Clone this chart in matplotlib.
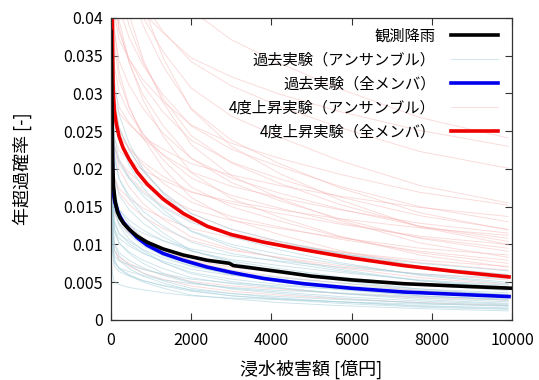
import matplotlib
matplotlib.use('Agg')
import matplotlib.pyplot as plt
from matplotlib.ticker import FuncFormatter

plt.rcParams['font.family'] = ['Noto Sans CJK JP', 'DejaVu Sans']

# observed rainfall (black)
obs_x = [0, 20, 40, 60, 100, 160, 225, 310, 450, 650, 900, 1300, 1800, 2400,
         2950, 3050, 3500, 4200, 5000, 6000, 7300, 8600, 10000]
obs_y = [0.0382, 0.030, 0.021, 0.0178, 0.0158, 0.0143, 0.0135, 0.0128, 0.0120,
         0.0111, 0.0103, 0.0094, 0.0086, 0.0079, 0.0075, 0.0072, 0.0069, 0.0064,
         0.0058, 0.0053, 0.0048, 0.0045, 0.0042]

# past experiment, all members (blue)
past_x = [0, 20, 40, 60, 100, 160, 225, 310, 450, 650, 900, 1300, 1800, 2400,
          3000, 3800, 4800, 6000, 7300, 8600, 9925]
past_y = [0.0400, 0.028, 0.019, 0.0166, 0.0155, 0.0145, 0.0137, 0.0129, 0.0120,
          0.0109, 0.0099, 0.0088, 0.0079, 0.0070, 0.0063, 0.0055, 0.0048, 0.0042,
          0.0037, 0.0034, 0.0031]

# +4K experiment, all members (red)
warm_x = [0, 30, 50, 80, 130, 200, 300, 450, 650, 900, 1300, 1800, 2400, 3000,
          3800, 4800, 6000, 7300, 8600, 9925]
warm_y = [0.060, 0.040, 0.031, 0.0278, 0.0260, 0.0243, 0.0228, 0.0213, 0.0196,
          0.0180, 0.0160, 0.0141, 0.0124, 0.0113, 0.0103, 0.0093, 0.0082, 0.0072,
          0.0064, 0.0057]

# ensemble members, sampled at these damage values
ens_x = [0, 30, 80, 200, 450, 800, 1300, 2000, 3000, 4200, 5700, 7700, 9900]

warm_ens = [
    [0.1036, 0.0805, 0.0643, 0.0590, 0.0547, 0.0504, 0.0458, 0.0410, 0.0371, 0.0340, 0.0306, 0.0268, 0.0241],
    [0.0711, 0.0584, 0.0492, 0.0460, 0.0435, 0.0407, 0.0380, 0.0347, 0.0322, 0.0299, 0.0276, 0.0251, 0.0230],
    [0.0864, 0.0671, 0.0537, 0.0492, 0.0456, 0.0420, 0.0382, 0.0342, 0.0310, 0.0283, 0.0255, 0.0223, 0.0201],
    [0.1017, 0.0735, 0.0550, 0.0493, 0.0446, 0.0401, 0.0355, 0.0307, 0.0270, 0.0242, 0.0211, 0.0178, 0.0155],
    [0.0654, 0.0508, 0.0406, 0.0372, 0.0345, 0.0318, 0.0289, 0.0258, 0.0234, 0.0214, 0.0193, 0.0169, 0.0152],
    [0.0423, 0.0348, 0.0293, 0.0274, 0.0259, 0.0242, 0.0226, 0.0207, 0.0192, 0.0178, 0.0164, 0.0149, 0.0137],
    [0.0853, 0.0616, 0.0462, 0.0413, 0.0374, 0.0337, 0.0298, 0.0257, 0.0226, 0.0203, 0.0177, 0.0150, 0.0130],
    [0.1250, 0.0833, 0.0581, 0.0506, 0.0446, 0.0390, 0.0336, 0.0280, 0.0238, 0.0207, 0.0175, 0.0142, 0.0119],
    [0.0495, 0.0384, 0.0307, 0.0282, 0.0261, 0.0240, 0.0219, 0.0196, 0.0177, 0.0162, 0.0146, 0.0128, 0.0115],
    [0.0708, 0.0512, 0.0383, 0.0343, 0.0311, 0.0280, 0.0247, 0.0214, 0.0188, 0.0168, 0.0147, 0.0124, 0.0108],
    [0.1092, 0.0728, 0.0508, 0.0442, 0.0390, 0.0341, 0.0293, 0.0244, 0.0208, 0.0181, 0.0153, 0.0124, 0.0104],
    [0.0430, 0.0334, 0.0267, 0.0245, 0.0227, 0.0209, 0.0190, 0.0170, 0.0154, 0.0141, 0.0127, 0.0111, 0.0100],
    [0.0623, 0.0450, 0.0337, 0.0302, 0.0274, 0.0246, 0.0218, 0.0188, 0.0165, 0.0148, 0.0129, 0.0109, 0.0095],
    [0.0956, 0.0637, 0.0444, 0.0387, 0.0341, 0.0298, 0.0257, 0.0214, 0.0182, 0.0158, 0.0134, 0.0108, 0.0091],
    [0.0370, 0.0287, 0.0230, 0.0211, 0.0195, 0.0180, 0.0163, 0.0146, 0.0132, 0.0121, 0.0109, 0.0095, 0.0086],
    [0.0518, 0.0374, 0.0280, 0.0251, 0.0228, 0.0205, 0.0181, 0.0156, 0.0137, 0.0123, 0.0107, 0.0091, 0.0079],
    [0.0788, 0.0525, 0.0366, 0.0319, 0.0281, 0.0246, 0.0212, 0.0176, 0.0150, 0.0131, 0.0110, 0.0089, 0.0075],
    [0.0305, 0.0237, 0.0190, 0.0174, 0.0161, 0.0148, 0.0135, 0.0121, 0.0109, 0.0100, 0.0090, 0.0079, 0.0071],
    [0.0433, 0.0313, 0.0234, 0.0210, 0.0190, 0.0171, 0.0151, 0.0131, 0.0115, 0.0103, 0.0090, 0.0076, 0.0066],
    [0.0630, 0.0420, 0.0293, 0.0255, 0.0225, 0.0197, 0.0169, 0.0141, 0.0120, 0.0104, 0.0088, 0.0071, 0.0060],
    [0.0348, 0.0251, 0.0188, 0.0169, 0.0153, 0.0137, 0.0121, 0.0105, 0.0092, 0.0083, 0.0072, 0.0061, 0.0053],
    [0.0494, 0.0329, 0.0229, 0.0200, 0.0176, 0.0154, 0.0133, 0.0110, 0.0094, 0.0082, 0.0069, 0.0056, 0.0047],
    [0.0262, 0.0190, 0.0142, 0.0127, 0.0115, 0.0104, 0.0092, 0.0079, 0.0070, 0.0062, 0.0054, 0.0046, 0.0040],
    [0.0347, 0.0231, 0.0161, 0.0140, 0.0124, 0.0108, 0.0093, 0.0078, 0.0066, 0.0057, 0.0049, 0.0039, 0.0033],
    [0.0171, 0.0123, 0.0092, 0.0083, 0.0075, 0.0067, 0.0060, 0.0051, 0.0045, 0.0041, 0.0035, 0.0030, 0.0026],
    [0.0200, 0.0133, 0.0093, 0.0081, 0.0071, 0.0062, 0.0054, 0.0045, 0.0038, 0.0033, 0.0028, 0.0023, 0.0019],
    [0.0346, 0.0284, 0.0240, 0.0224, 0.0212, 0.0198, 0.0185, 0.0169, 0.0157, 0.0146, 0.0134, 0.0122, 0.0112],
    [0.1394, 0.0855, 0.0556, 0.0471, 0.0405, 0.0345, 0.0288, 0.0232, 0.0191, 0.0161, 0.0132, 0.0102, 0.0083],
    [0.1680, 0.1030, 0.0670, 0.0567, 0.0488, 0.0416, 0.0347, 0.0279, 0.0230, 0.0194, 0.0159, 0.0123, 0.0100],
    [0.1176, 0.0721, 0.0469, 0.0397, 0.0342, 0.0291, 0.0243, 0.0195, 0.0161, 0.0136, 0.0111, 0.0086, 0.0070],
    [0.0974, 0.0597, 0.0389, 0.0329, 0.0283, 0.0241, 0.0201, 0.0162, 0.0133, 0.0113, 0.0092, 0.0071, 0.0058],
    [0.0787, 0.0569, 0.0426, 0.0382, 0.0346, 0.0311, 0.0275, 0.0238, 0.0209, 0.0187, 0.0163, 0.0138, 0.0120],
]

past_ens = [
    [0.0426, 0.0308, 0.0231, 0.0207, 0.0187, 0.0168, 0.0149, 0.0129, 0.0113, 0.0101, 0.0088, 0.0075, 0.0065],
    [0.0630, 0.0420, 0.0293, 0.0255, 0.0225, 0.0197, 0.0169, 0.0141, 0.0120, 0.0104, 0.0088, 0.0071, 0.0060],
    [0.0237, 0.0184, 0.0147, 0.0135, 0.0125, 0.0115, 0.0105, 0.0094, 0.0085, 0.0078, 0.0070, 0.0061, 0.0055],
    [0.0525, 0.0350, 0.0244, 0.0213, 0.0188, 0.0164, 0.0141, 0.0118, 0.0100, 0.0087, 0.0074, 0.0060, 0.0050],
    [0.0302, 0.0218, 0.0163, 0.0146, 0.0132, 0.0119, 0.0105, 0.0091, 0.0080, 0.0072, 0.0063, 0.0053, 0.0046],
    [0.0706, 0.0433, 0.0281, 0.0238, 0.0205, 0.0175, 0.0146, 0.0117, 0.0097, 0.0081, 0.0067, 0.0052, 0.0042],
    [0.0410, 0.0273, 0.0190, 0.0166, 0.0146, 0.0128, 0.0110, 0.0092, 0.0078, 0.0068, 0.0057, 0.0046, 0.0039],
    [0.0236, 0.0171, 0.0128, 0.0114, 0.0104, 0.0093, 0.0082, 0.0071, 0.0063, 0.0056, 0.0049, 0.0041, 0.0036],
    [0.0554, 0.0340, 0.0221, 0.0187, 0.0161, 0.0137, 0.0115, 0.0092, 0.0076, 0.0064, 0.0052, 0.0041, 0.0033],
    [0.0315, 0.0210, 0.0146, 0.0128, 0.0113, 0.0098, 0.0085, 0.0071, 0.0060, 0.0052, 0.0044, 0.0036, 0.0030],
    [0.0120, 0.0094, 0.0075, 0.0069, 0.0064, 0.0059, 0.0053, 0.0048, 0.0043, 0.0039, 0.0036, 0.0031, 0.0028],
    [0.0437, 0.0268, 0.0174, 0.0147, 0.0127, 0.0108, 0.0090, 0.0073, 0.0060, 0.0050, 0.0041, 0.0032, 0.0026],
    [0.0252, 0.0168, 0.0117, 0.0102, 0.0090, 0.0079, 0.0068, 0.0056, 0.0048, 0.0042, 0.0035, 0.0029, 0.0024],
    [0.0370, 0.0227, 0.0147, 0.0125, 0.0107, 0.0092, 0.0076, 0.0061, 0.0051, 0.0043, 0.0035, 0.0027, 0.0022],
    [0.0131, 0.0095, 0.0071, 0.0064, 0.0058, 0.0052, 0.0046, 0.0040, 0.0035, 0.0031, 0.0027, 0.0023, 0.0020],
    [0.0302, 0.0185, 0.0121, 0.0102, 0.0088, 0.0075, 0.0062, 0.0050, 0.0041, 0.0035, 0.0029, 0.0022, 0.0018],
    [0.0168, 0.0112, 0.0078, 0.0068, 0.0060, 0.0052, 0.0045, 0.0038, 0.0032, 0.0028, 0.0024, 0.0019, 0.0016],
    [0.0235, 0.0144, 0.0094, 0.0079, 0.0068, 0.0058, 0.0049, 0.0039, 0.0032, 0.0027, 0.0022, 0.0017, 0.0014],
    [0.0202, 0.0124, 0.0080, 0.0068, 0.0059, 0.0050, 0.0042, 0.0033, 0.0028, 0.0023, 0.0019, 0.0015, 0.0012],
    [0.0462, 0.0308, 0.0215, 0.0187, 0.0165, 0.0144, 0.0124, 0.0103, 0.0088, 0.0077, 0.0065, 0.0052, 0.0044],
    [0.0223, 0.0161, 0.0121, 0.0108, 0.0098, 0.0088, 0.0078, 0.0067, 0.0059, 0.0053, 0.0046, 0.0039, 0.0034],
    [0.0284, 0.0189, 0.0132, 0.0115, 0.0101, 0.0089, 0.0076, 0.0063, 0.0054, 0.0047, 0.0040, 0.0032, 0.0027],
    [0.0221, 0.0147, 0.0102, 0.0089, 0.0079, 0.0069, 0.0059, 0.0049, 0.0042, 0.0037, 0.0031, 0.0025, 0.0021],
    [0.0252, 0.0155, 0.0101, 0.0085, 0.0073, 0.0062, 0.0052, 0.0042, 0.0035, 0.0029, 0.0024, 0.0018, 0.0015],
    [0.0138, 0.0107, 0.0085, 0.0078, 0.0073, 0.0067, 0.0061, 0.0054, 0.0049, 0.0045, 0.0041, 0.0036, 0.0032],
    [0.0806, 0.0494, 0.0322, 0.0272, 0.0234, 0.0200, 0.0167, 0.0134, 0.0110, 0.0093, 0.0076, 0.0059, 0.0048],
    [0.0082, 0.0063, 0.0051, 0.0047, 0.0043, 0.0040, 0.0036, 0.0032, 0.0029, 0.0027, 0.0024, 0.0021, 0.0019],
]

labels = ['観測降雨', '過去実験（アンサンブル）', '過去実験（全メンバ）',
          '4度上昇実験（アンサンブル）', '4度上昇実験（全メンバ）']

fig = plt.figure(figsize=(5.39, 3.80), dpi=100)
ax = fig.add_axes([0.206, 0.158, 0.744, 0.795])

pink = '#f7b4b4'
pale_blue = '#aad2dd'

for i, ys in enumerate(warm_ens):
    ax.plot(ens_x, ys, color=pink, lw=0.65, alpha=0.5,
            label=labels[3] if i == 0 else None)
for i, ys in enumerate(past_ens):
    ax.plot(ens_x, ys, color=pale_blue, lw=0.65, alpha=0.6,
            label=labels[1] if i == 0 else None)

ax.plot(past_x, past_y, color='#0000ee', lw=2.6, label=labels[2])
ax.plot(warm_x, warm_y, color='#ee0000', lw=2.6, label=labels[4])
ax.plot(obs_x, obs_y, color='black', lw=2.6, label=labels[0])

ax.set_xlim(0, 10000)
ax.set_ylim(0, 0.04)
ax.set_xticks([0, 2000, 4000, 6000, 8000, 10000])
ax.set_yticks([0, 0.005, 0.01, 0.015, 0.02, 0.025, 0.03, 0.035, 0.04])
ax.yaxis.set_major_formatter(FuncFormatter(lambda v, _: f'{v:g}'))
ax.tick_params(direction='in', top=True, right=True, length=5, width=0.8,
               labelsize=11.5, color='#333333')
ax.tick_params(axis='x', pad=9)
ax.tick_params(axis='y', pad=6)
for s in ax.spines.values():
    s.set_color('#333333')
    s.set_linewidth(0.9)

ax.set_xlabel('浸水被害額 [億円]', fontsize=13, labelpad=7)
ax.set_ylabel('年超過確率 [-]', fontsize=13, labelpad=22)

# legend order as in the reference
h, l = ax.get_legend_handles_labels()
order = [l.index(t) for t in labels]
ax.legend([h[k] for k in order], [l[k] for k in order], loc='upper right',
          bbox_to_anchor=(1.0, 1.013), markerfirst=False, frameon=False,
          fontsize=11, handlelength=3.1, labelspacing=0.45,
          borderaxespad=0.5, handletextpad=1.0)

fig.savefig('out.png', dpi=100)
